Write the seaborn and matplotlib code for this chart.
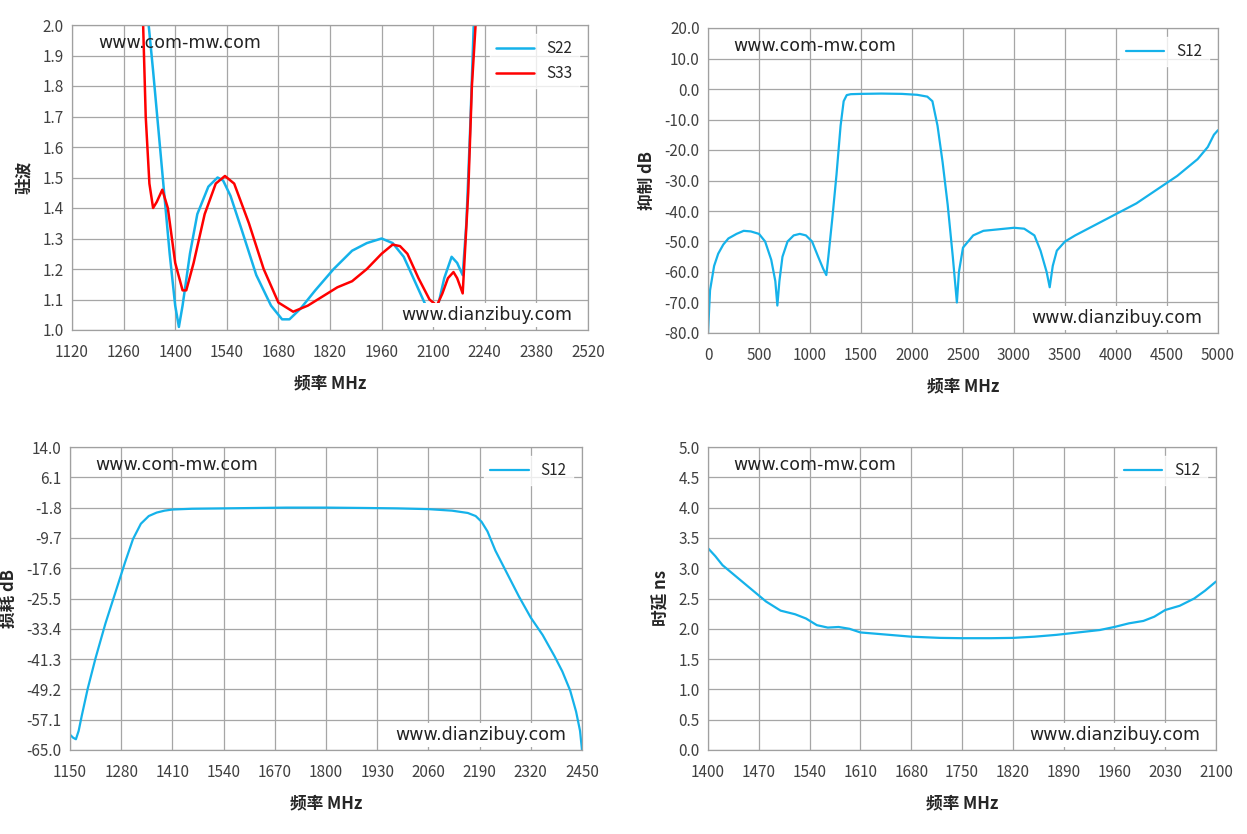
import matplotlib
matplotlib.use('Agg')
import matplotlib.pyplot as plt
import seaborn as sns
import numpy as np
import pandas as pd

sns.set_theme(style='whitegrid')
plt.rcParams['font.family'] = ['Noto Sans CJK SC', 'DejaVu Sans']

# ---- 数据 ----
s22_f = [1328, 1340, 1355, 1370, 1385, 1400, 1410, 1420, 1440, 1460, 1490, 1515, 1530, 1550, 1580, 1620, 1660, 1690, 1710, 1740, 1780, 1830, 1880, 1920, 1960, 1990, 2020, 2050, 2080, 2100, 2115, 2130, 2150, 2165, 2180, 2190, 2200, 2210]
s22_v = [2.0, 1.85, 1.65, 1.45, 1.25, 1.08, 1.01, 1.08, 1.25, 1.38, 1.47, 1.50, 1.49, 1.44, 1.33, 1.18, 1.08, 1.035, 1.035, 1.07, 1.13, 1.20, 1.26, 1.285, 1.30, 1.285, 1.24, 1.16, 1.08, 1.065, 1.09, 1.17, 1.24, 1.22, 1.18, 1.35, 1.65, 2.0]
s33_f = [1313, 1320, 1330, 1340, 1350, 1365, 1380, 1400, 1420, 1430, 1450, 1480, 1510, 1535, 1560, 1600, 1640, 1680, 1720, 1760, 1800, 1840, 1880, 1920, 1960, 1990, 2010, 2030, 2060, 2090, 2110, 2125, 2140, 2155, 2165, 2180, 2195, 2205, 2215]
s33_v = [2.0, 1.70, 1.48, 1.40, 1.42, 1.46, 1.40, 1.22, 1.13, 1.13, 1.22, 1.38, 1.48, 1.505, 1.48, 1.35, 1.20, 1.09, 1.06, 1.08, 1.11, 1.14, 1.16, 1.20, 1.25, 1.28, 1.275, 1.25, 1.17, 1.10, 1.08, 1.12, 1.17, 1.19, 1.17, 1.12, 1.45, 1.80, 2.0]

rej_f = [0, 20, 60, 100, 150, 200, 280, 350, 420, 500, 560, 620, 660, 680, 700, 730, 780, 840, 900, 960, 1020, 1080, 1130, 1160, 1180, 1220, 1260, 1300, 1330, 1360, 1400, 1500, 1700, 1900, 2050, 2150, 2200, 2250, 2300, 2350, 2400, 2440, 2460, 2500, 2600, 2700, 2850, 3000, 3100, 3200, 3260, 3320, 3350, 3380, 3420, 3500, 3600, 3800, 4000, 4200, 4400, 4600, 4800, 4900, 4960, 5000]
rej_v = [-80, -66, -58, -54, -51, -49, -47.5, -46.5, -46.7, -47.5, -50, -56, -63, -71, -63, -55, -50, -48, -47.5, -48, -50, -55, -59, -61, -55, -42, -28, -12, -4, -2.0, -1.7, -1.6, -1.5, -1.6, -1.9, -2.5, -4, -12, -24, -38, -55, -70, -60, -52, -48, -46.5, -46, -45.5, -45.8, -48, -53, -60, -65, -58, -53, -50, -48, -44.5, -41, -37.5, -33, -28.5, -23, -19, -15, -13.5]

il_f = [1150, 1158, 1165, 1172, 1180, 1195, 1215, 1240, 1265, 1290, 1310, 1330, 1350, 1370, 1390, 1410, 1460, 1540, 1620, 1700, 1800, 1900, 1980, 2060, 2120, 2160, 2180, 2195, 2210, 2230, 2260, 2290, 2320, 2350, 2380, 2400, 2420, 2435, 2445, 2450]
il_v = [-61, -61.8, -62.2, -60, -56, -49, -41, -32, -24, -16, -10, -6, -4, -3.1, -2.6, -2.3, -2.1, -2.0, -1.9, -1.8, -1.8, -1.9, -2.0, -2.2, -2.6, -3.2, -4.0, -5.5, -8, -13, -19, -25, -30.5, -35, -40.5, -44.5, -49.5, -55, -60, -65]

gd_f = [1400, 1410, 1420, 1440, 1460, 1480, 1500, 1520, 1535, 1550, 1565, 1580, 1595, 1610, 1640, 1680, 1720, 1750, 1790, 1820, 1850, 1880, 1910, 1940, 1960, 1980, 2000, 2015, 2030, 2050, 2070, 2085, 2100]
gd_v = [3.33, 3.2, 3.05, 2.85, 2.65, 2.45, 2.30, 2.24, 2.17, 2.06, 2.02, 2.03, 2.0, 1.94, 1.91, 1.87, 1.85, 1.845, 1.845, 1.85, 1.87, 1.9, 1.94, 1.98, 2.03, 2.09, 2.13, 2.2, 2.31, 2.38, 2.5, 2.63, 2.78]

blue = '#15B2EA'
red = '#FF0000'
lab_font = dict(fontsize=12, fontweight='bold', family=['Noto Sans CJK SC', 'DejaVu Sans'])

fig = plt.figure(figsize=(12.47, 8.34), dpi=100)
W, H = 1247, 834
def mk(x0, y0, x1, y1):
    return fig.add_axes([x0 / W, 1 - y1 / H, (x1 - x0) / W, (y1 - y0) / H])

ax1 = mk(72, 25, 588, 330)
ax2 = mk(708, 28, 1218, 333)
ax3 = mk(70, 447, 582, 750)
ax4 = mk(708, 447, 1216, 750)

df1 = pd.concat([pd.DataFrame({'f': s22_f, 'v': s22_v, 's': 'S22'}),
                 pd.DataFrame({'f': s33_f, 'v': s33_v, 's': 'S33'})])
sns.lineplot(data=df1, x='f', y='v', hue='s', palette={'S22': blue, 'S33': red}, ax=ax1, lw=1.8, sort=False)
sns.lineplot(x=rej_f, y=rej_v, ax=ax2, color=blue, lw=1.6, label='S12')
sns.lineplot(x=il_f, y=il_v, ax=ax3, color=blue, lw=1.6, label='S12')
sns.lineplot(x=gd_f, y=gd_v, ax=ax4, color=blue, lw=1.6, label='S12')

ax1.set_xlim(1120, 2520); ax1.set_xticks(np.arange(1120, 2521, 140))
ax1.set_ylim(1.0, 2.0); ax1.set_yticks(np.arange(1.0, 2.01, 0.1))
ax2.set_xlim(0, 5000); ax2.set_xticks(np.arange(0, 5001, 500))
ax2.set_ylim(-80, 20); ax2.set_yticks(np.arange(-80, 21, 10))
ax3.set_xlim(1150, 2450); ax3.set_xticks(np.arange(1150, 2451, 130))
ax3.set_ylim(-65, 14); ax3.set_yticks(np.linspace(-65, 14, 11))
ax4.set_xlim(1400, 2100); ax4.set_xticks(np.arange(1400, 2101, 70))
ax4.set_ylim(0, 5); ax4.set_yticks(np.arange(0, 5.01, 0.5))

ylabels = ['驻波', '抑制 dB', '损耗 dB', '时延 ns']
for ax, yl in zip([ax1, ax2, ax3, ax4], ylabels):
    ax.yaxis.set_major_formatter(matplotlib.ticker.FormatStrFormatter('%.1f'))
    ax.grid(True, color='#A6A6A6', lw=0.9)
    for sp in ax.spines.values():
        sp.set_color('#A0A0A0'); sp.set_linewidth(0.9)
    ax.tick_params(axis='y', labelsize=11, colors='#404040', pad=6, length=0)
    ax.tick_params(axis='x', labelsize=11, colors='#404040', pad=10, length=0)
    ax.set_xlabel('频率 MHz', **lab_font, labelpad=10)
    ax.set_ylabel(yl, **lab_font, labelpad=6)
    ax.text(0.05, 0.97, 'www.com-mw.com', transform=ax.transAxes, fontsize=12.5, va='top', color='#222222', family='DejaVu Sans')
    ax.text(0.97, 0.02, 'www.dianzibuy.com', transform=ax.transAxes, fontsize=12.5, ha='right', va='bottom', color='#222222', family='DejaVu Sans',
            bbox=dict(facecolor='white', edgecolor='none', pad=2))
    leg = ax.legend(loc='upper right', fontsize=11, frameon=True, fancybox=False, handlelength=2.5, borderaxespad=0.6, title=None)
    leg.get_frame().set_edgecolor('white')
    leg.get_frame().set_facecolor('white')

fig.savefig('out.png', dpi=100)
